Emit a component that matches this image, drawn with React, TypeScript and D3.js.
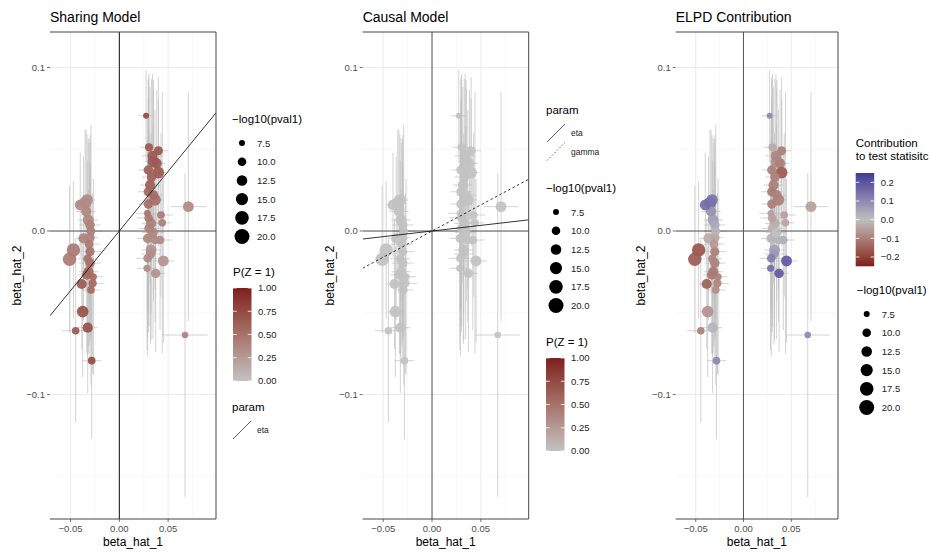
import React from 'react';
import * as d3 from 'd3';

// per-variant estimates
const beta1 = [
  -0.0351, -0.0330, -0.0318, -0.0300, -0.0367, -0.0300, -0.0470, -0.0510, -0.0300, -0.0300,
  -0.0316, -0.0334, -0.0266, -0.0273, -0.0385, -0.0375, -0.0324, -0.0447, -0.0283,
  -0.0340, -0.0310, -0.0325, -0.0290, -0.0400, -0.0290,
  0.0274, 0.0304, 0.0400, 0.0349, 0.0383, 0.0400, 0.0297, 0.0315, 0.0297, 0.0366,
  0.0297, 0.0707, 0.0287, 0.0427, 0.0325, 0.0304, 0.0290, 0.0417, 0.0366, 0.0325,
  0.0320, 0.0290, 0.0451, 0.0284, 0.0373, 0.0673,
  0.0330, 0.0340, 0.0350, 0.0300, 0.0345, 0.0440,
];
const beta2 = [
  0.0171, 0.0190, 0.0067, 0.0037, -0.0045, -0.0040, -0.0116, -0.0173, -0.0126, -0.0196,
  -0.0249, -0.0269, -0.0280, -0.0320, -0.0324, -0.0493, -0.0591, -0.0610, -0.0793,
  0.0120, -0.0080, -0.0170, -0.0360, 0.0160, 0.0000,
  0.0705, 0.0512, 0.0491, 0.0424, 0.0414, 0.0357, 0.0373, 0.0281, 0.0240, 0.0190,
  0.0165, 0.0149, 0.0108, 0.0098, 0.0047, 0.0016, -0.0045, -0.0055, -0.0055, -0.0116,
  -0.0140, -0.0167, -0.0183, -0.0228, -0.0259, -0.0636,
  0.0330, 0.0460, 0.0220, 0.0080, -0.0010, 0.0050,
];
// half widths of the intervals
const ci1 = [
  0.009, 0.008, 0.010, 0.011, 0.009, 0.008, 0.007, 0.007, 0.012, 0.011,
  0.010, 0.009, 0.010, 0.012, 0.008, 0.008, 0.010, 0.014, 0.010,
  0.010, 0.011, 0.010, 0.010, 0.006, 0.012,
  0.008, 0.009, 0.010, 0.008, 0.009, 0.008, 0.010, 0.010, 0.011, 0.009,
  0.011, 0.018, 0.012, 0.012, 0.010, 0.011, 0.011, 0.012, 0.010, 0.010,
  0.010, 0.012, 0.011, 0.010, 0.010, 0.023,
  0.010, 0.011, 0.010, 0.012, 0.011, 0.009,
];
const ci2 = [
  0.045, 0.040, 0.050, 0.055, 0.050, 0.060, 0.042, 0.045, 0.055, 0.058,
  0.050, 0.048, 0.060, 0.055, 0.040, 0.040, 0.040, 0.056, 0.048,
  0.050, 0.062, 0.060, 0.058, 0.032, 0.065,
  0.028, 0.045, 0.045, 0.050, 0.045, 0.045, 0.055, 0.060, 0.070, 0.055,
  0.065, 0.070, 0.060, 0.050, 0.055, 0.060, 0.060, 0.055, 0.050, 0.055,
  0.055, 0.060, 0.050, 0.050, 0.048, 0.099,
  0.060, 0.050, 0.065, 0.070, 0.065, 0.080,
];
const log10p = [
  15, 14, 13, 11, 12, 11, 17, 17, 10.5, 11,
  12, 11, 8.5, 9.5, 12, 14, 12, 9, 9,
  12, 10, 10, 9, 13, 10,
  7.5, 9.5, 10.5, 14, 12, 14, 11, 12, 11, 14,
  11, 13, 8, 9, 12, 11, 11, 10, 10, 13,
  11, 10, 13, 8.5, 11, 8,
  11, 12, 11, 10, 11, 9,
];
const probZ = [
  0.35, 0.33, 0.36, 0.40, 0.40, 0.38, 0.45, 0.45, 0.50, 0.52,
  0.55, 0.56, 0.55, 0.56, 0.65, 0.70, 0.70, 0.65, 0.75,
  0.36, 0.45, 0.50, 0.55, 0.35, 0.40,
  0.75, 0.65, 0.68, 0.65, 0.65, 0.66, 0.62, 0.60, 0.57, 0.52,
  0.52, 0.35, 0.50, 0.45, 0.40, 0.40, 0.36, 0.35, 0.35, 0.30,
  0.32, 0.35, 0.30, 0.35, 0.30, 0.40,
  0.60, 0.65, 0.55, 0.45, 0.38, 0.42,
];
const elpd = [
  0.16, 0.14, 0.06, 0.04, -0.03, -0.04, -0.17, -0.16, -0.10, -0.10,
  -0.11, -0.11, -0.10, -0.09, -0.15, -0.07, 0.02, -0.10, 0.10,
  0.08, -0.06, -0.09, -0.08, 0.15, 0.02,
  0.10, -0.03, -0.10, -0.08, -0.10, -0.16, -0.10, -0.10, -0.11, -0.10,
  -0.10, -0.05, -0.05, -0.05, -0.03, -0.02, 0.02, 0.03, 0.02, 0.06,
  0.07, 0.12, 0.19, 0.15, 0.19, 0.10,
  -0.10, -0.09, -0.10, -0.05, 0.00, -0.04,
];

const etaSharing = 0.73;
const etaCausal = 0.069;
const gammaCausal = 0.32;

const xTicks = [-0.05, 0, 0.05];
const xMinor = [-0.025, 0.025, 0.075];
const yTicks = [-0.1, 0, 0.1];
const yMinor = [-0.15, -0.05, 0.05];
const sizeBreaks = [7.5, 10, 12.5, 15, 17.5, 20];
const probBreaks = [0, 0.25, 0.5, 0.75, 1];
const elpdBreaks = [-0.2, -0.1, 0, 0.1, 0.2];

const FONT = '"Liberation Sans", Arial, sans-serif';
const TOP = 32, BOTTOM = 519;
const xDom: [number, number] = [-0.071, 0.099];
const yDom: [number, number] = [-0.1761, 0.1217];

const fmt = (v: number, d: number) => (v < 0 ? '\u2212' : '') + Math.abs(v).toFixed(d);

const areaScale = d3.scaleLinear().domain([7.5, 20]).range([9, 56]);
const rad = (v: number) => Math.sqrt(Math.max(2, areaScale(v)));

const probColor = d3.scaleLinear<string>().domain([0, 1]).range(['#C2C2C2', '#7E1E1E']).interpolate(d3.interpolateLab);
const elpdColor = d3.scaleLinear<string>().domain([-0.25, 0, 0.25]).range(['#7E1E1E', '#BFBFBF', '#3D3C97']).interpolate(d3.interpolateLab);

const idx = d3.range(beta1.length);

function Panel({ left, right, title, yTitleX, color, lines, id }:
  { left: number; right: number; title: string; yTitleX: number; color: (i: number) => string;
    lines: { slope: number; dash?: string }[]; id: string }) {
  const x = d3.scaleLinear().domain(xDom).range([left, right]);
  const y = d3.scaleLinear().domain(yDom).range([BOTTOM, TOP]);
  const grid = '#EBEBEB';
  return (
    <g>
      <defs><clipPath id={id}><rect x={left} y={TOP} width={right - left} height={BOTTOM - TOP} /></clipPath></defs>
      <text x={left} y={22} fontSize={14} fontFamily={FONT} fill="#000">{title}</text>
      {xMinor.map(v => <line key={'xm' + v} x1={x(v)} x2={x(v)} y1={TOP} y2={BOTTOM} stroke="#F4F4F4" strokeWidth={0.6} />)}
      {yMinor.map(v => <line key={'ym' + v} x1={left} x2={right} y1={y(v)} y2={y(v)} stroke="#F4F4F4" strokeWidth={0.6} />)}
      {xTicks.map(v => <line key={'xg' + v} x1={x(v)} x2={x(v)} y1={TOP} y2={BOTTOM} stroke={grid} strokeWidth={1} />)}
      {yTicks.map(v => <line key={'yg' + v} x1={left} x2={right} y1={y(v)} y2={y(v)} stroke={grid} strokeWidth={1} />)}
      <g clipPath={`url(#${id})`}>
        {idx.map(i => (
          <g key={'e' + i} stroke="#BDBDBD" strokeOpacity={0.75} strokeWidth={0.9}>
            <line x1={x(beta1[i])} x2={x(beta1[i])} y1={y(beta2[i] - ci2[i])} y2={y(beta2[i] + ci2[i])} />
            <line x1={x(beta1[i] - ci1[i])} x2={x(beta1[i] + ci1[i])} y1={y(beta2[i])} y2={y(beta2[i])} />
          </g>
        ))}
        <line x1={x(0)} x2={x(0)} y1={TOP} y2={BOTTOM} stroke={id === 'c1' ? '#111' : '#555'} strokeWidth={1} />
        <line x1={left} x2={right} y1={y(0)} y2={y(0)} stroke="#555" strokeWidth={1} />
        {idx.map(i => (
          <circle key={'p' + i} cx={x(beta1[i])} cy={y(beta2[i])} r={rad(log10p[i])} fill={color(i)} fillOpacity={0.92} />
        ))}
        {lines.map((l, k) => (
          <line key={'l' + k} x1={x(xDom[0])} x2={x(xDom[1])} y1={y(l.slope * xDom[0])} y2={y(l.slope * xDom[1])}
            stroke="#000" strokeWidth={0.8} strokeDasharray={l.dash} />
        ))}
      </g>
      <line x1={left} x2={right} y1={TOP} y2={TOP} stroke="#444" strokeWidth={1} />
      <line x1={right} x2={right} y1={TOP} y2={BOTTOM} stroke="#444" strokeWidth={1} />
      <line x1={left} x2={right} y1={BOTTOM} y2={BOTTOM} stroke="#444" strokeWidth={1} />
      {yTicks.map(v => (
        <g key={'yt' + v}>
          <line x1={left - 3} x2={left} y1={y(v)} y2={y(v)} stroke="#4D4D4D" strokeWidth={0.8} />
          <text x={left - 5} y={y(v) + 3.3} textAnchor="end" fontSize={9.5} fontFamily={FONT} fill="#4D4D4D">{fmt(v, 1)}</text>
        </g>
      ))}
      {xTicks.map(v => (
        <g key={'xt' + v}>
          <line x1={x(v)} x2={x(v)} y1={BOTTOM} y2={BOTTOM + 3} stroke="#4D4D4D" strokeWidth={0.8} />
          <text x={x(v)} y={BOTTOM + 12.5} textAnchor="middle" fontSize={9.5} fontFamily={FONT} fill="#4D4D4D">{fmt(v, 2)}</text>
        </g>
      ))}
      <text x={(left + right) / 2} y={546} textAnchor="middle" fontSize={12} fontFamily={FONT}>beta_hat_1</text>
      <text transform={`translate(${yTitleX},${(TOP + BOTTOM) / 2}) rotate(-90)`} textAnchor="middle" dy={4}
        fontSize={12} fontFamily={FONT}>beta_hat_2</text>
    </g>
  );
}

function SizeLegend({ x, y }: { x: number; y: number }) {
  return (
    <g fontFamily={FONT}>
      <text x={x} y={y} fontSize={11.5}>{'\u2212log10(pval1)'}</text>
      {sizeBreaks.map((v, k) => (
        <g key={v}>
          <circle cx={x + 10} cy={y + 20 + k * 18.7} r={rad(v)} fill="#000" />
          <text x={x + 25} y={y + 23.5 + k * 18.7} fontSize={9.5} fill="#222">{v.toFixed(1)}</text>
        </g>
      ))}
    </g>
  );
}

function ColorBar({ x, y, title, id, breaks, scale, dom, h, digits }:
  { x: number; y: number; title: string[]; id: string; breaks: number[]; scale: (v: number) => string;
    dom: [number, number]; h: number; digits: number }) {
  const top = y + 14 * (title.length - 1) + 12;
  const pos = d3.scaleLinear().domain(dom).range([top + h, top]);
  const stops = d3.range(0, 1.0001, 0.1);
  return (
    <g fontFamily={FONT}>
      <defs>
        <linearGradient id={id} x1="0" y1="1" x2="0" y2="0">
          {stops.map(t => <stop key={t} offset={t} stopColor={scale(dom[0] + t * (dom[1] - dom[0]))} />)}
        </linearGradient>
      </defs>
      {title.map((t, k) => <text key={k} x={x} y={y + k * 13} fontSize={11.5}>{t}</text>)}
      <rect x={x} y={top} width={18.5} height={h} fill={`url(#${id})`} />
      {breaks.map(v => (
        <g key={v}>
          <line x1={x} x2={x + 3.7} y1={pos(v)} y2={pos(v)} stroke="#fff" strokeWidth={0.8} />
          <line x1={x + 14.8} x2={x + 18.5} y1={pos(v)} y2={pos(v)} stroke="#fff" strokeWidth={0.8} />
          <text x={x + 25} y={pos(v) + 3.3} fontSize={9.5} fill="#222">{fmt(v, digits)}</text>
        </g>
      ))}
    </g>
  );
}

function ParamLegend({ x, y, keys }: { x: number; y: number; keys: { label: string; dash?: string }[] }) {
  return (
    <g fontFamily={FONT}>
      <text x={x} y={y} fontSize={11.5}>param</text>
      {keys.map((k, j) => (
        <g key={k.label}>
          <line x1={x + 1} x2={x + 19} y1={y + 28 + j * 18.5} y2={y + 10 + j * 18.5} stroke="#333" strokeWidth={0.8} strokeDasharray={k.dash} />
          <text x={x + 25} y={y + 22 + j * 18.5} fontSize={8.5} fill="#222">{k.label}</text>
        </g>
      ))}
    </g>
  );
}

export default function App() {
  return (
    <svg width={930} height={555} style={{ position: 'absolute', left: 0, top: 0, background: '#fff' }}>
      <Panel id="c1" left={50} right={216} title="Sharing Model" yTitleX={17}
        color={i => probColor(probZ[i])} lines={[{ slope: etaSharing }]} />
      <Panel id="c2" left={362.7} right={528.7} title="Causal Model" yTitleX={330}
        color={() => probColor(0)} lines={[{ slope: etaCausal }, { slope: gammaCausal, dash: '2.5,2.5' }]} />
      <Panel id="c3" left={675.7} right={838} title="ELPD Contribution" yTitleX={641}
        color={i => elpdColor(elpd[i])} lines={[]} />

      <SizeLegend x={232} y={123} />
      <ColorBar x={233} y={276} title={['P(Z = 1)']} id="g1" breaks={probBreaks} scale={probColor} dom={[0, 1]} h={93} digits={2} />
      <ParamLegend x={232} y={411} keys={[{ label: 'eta' }]} />

      <ParamLegend x={546} y={114} keys={[{ label: 'eta' }, { label: 'gamma', dash: '1.5,2' }]} />
      <SizeLegend x={546} y={192} />
      <ColorBar x={546} y={346} title={['P(Z = 1)']} id="g2" breaks={probBreaks} scale={probColor} dom={[0, 1]} h={93} digits={2} />

      <ColorBar x={855.7} y={147} title={['Contribution', 'to test statisitc']} id="g3" breaks={elpdBreaks} scale={elpdColor} dom={[-0.25, 0.25]} h={93.3} digits={1} />
      <SizeLegend x={856.7} y={294} />
    </svg>
  );
}
